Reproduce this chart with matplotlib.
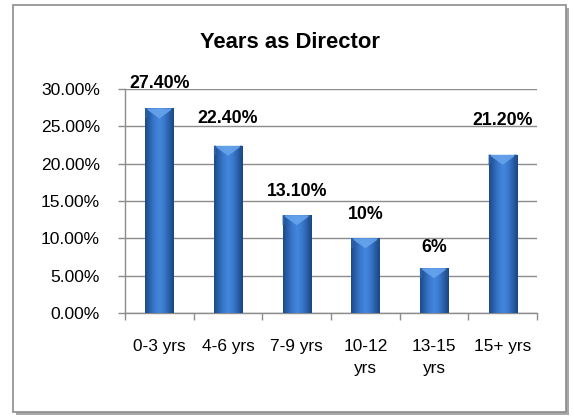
import matplotlib
matplotlib.use("Agg")
import matplotlib.pyplot as plt
import numpy as np
from matplotlib.patches import Rectangle, Polygon
from matplotlib.colors import LinearSegmentedColormap

categories = ["0-3 yrs", "4-6 yrs", "7-9 yrs", "10-12\nyrs", "13-15\nyrs", "15+ yrs"]
values = [27.4, 22.4, 13.1, 10, 6, 21.2]
labels = ["27.40%", "22.40%", "13.10%", "10%", "6%", "21.20%"]
yticks = [0, 5, 10, 15, 20, 25, 30]
ytick_labels = ["0.00%", "5.00%", "10.00%", "15.00%", "20.00%", "25.00%", "30.00%"]
title = "Years as Director"

# label vertical offsets above bar tops (pixels)
label_offsets_px = [25, 27, 24, 24, 21, 34]

plt.rcParams['font.family'] = ['Liberation Sans', 'DejaVu Sans']

W, H = 574, 416
fig = plt.figure(figsize=(W / 100, H / 100), dpi=100)
fig.patch.set_facecolor("white")

# outer border with shadow
shadow = Rectangle((16 / W, 1 - 415 / H), 553 / W, 407 / H, transform=fig.transFigure,
                   facecolor="#a8a8a8", edgecolor="none", zorder=0)
fig.patches.append(shadow)
frame = Rectangle((13 / W, 1 - 412 / H), 553 / W, 407 / H, transform=fig.transFigure,
                  facecolor="white", edgecolor="#8c8c8c", linewidth=1.2, zorder=1)
fig.patches.append(frame)

ax = fig.add_axes([125 / W, 1 - 313 / H, (537 - 125) / W, (313 - 89) / H])
ax.set_facecolor("none")
ax.set_zorder(2)

x = np.arange(len(categories))
bw = 0.41
bars = ax.bar(x, values, width=bw, color="#2f69b8", zorder=3, edgecolor="none")

ax.set_xlim(-0.5, len(categories) - 0.5)
ax.set_ylim(0, 30)

# gradient shading for bars
cmap = LinearSegmentedColormap.from_list(
    "barg", ["#1d4a87", "#2b63b0", "#3a7ad0", "#4487dc", "#3a79cd", "#2a60aa", "#1a4580"])
grad = np.linspace(0, 1, 64).reshape(1, -1)
px_per_unit = (313 - 89) / 30.0
bevel = 10 / px_per_unit
for b in bars:
    x0, y0 = b.get_x(), b.get_y()
    w, h = b.get_width(), b.get_height()
    im = ax.imshow(grad, extent=[x0, x0 + w, y0, y0 + h], aspect="auto",
                   cmap=cmap, zorder=3.5, interpolation="bicubic")
    im.set_clip_path(b)
    tri = Polygon([[x0, y0 + h], [x0 + w, y0 + h], [x0 + w / 2, y0 + h - bevel]],
                  closed=True, facecolor="#6aa6ee", edgecolor="none", zorder=4, alpha=0.85)
    ax.add_patch(tri)
    ax.add_patch(Polygon([[x0, y0 + h], [x0 + 0.08 * w, y0 + h], [x0 + 0.08 * w, y0 + h - bevel * 0.9],
                          [x0, y0 + h - bevel]], closed=True, facecolor="#2a5fa8",
                         edgecolor="none", zorder=4))
    ax.add_patch(Polygon([[x0 + w, y0 + h], [x0 + 0.92 * w, y0 + h], [x0 + 0.92 * w, y0 + h - bevel * 0.9],
                          [x0 + w, y0 + h - bevel]], closed=True, facecolor="#22528f",
                         edgecolor="none", zorder=4))

for xi, v, lab, off in zip(x, values, labels, label_offsets_px):
    ax.annotate(lab, (xi, v), xytext=(0, off * 0.72), textcoords="offset points",
                ha="center", va="center", fontsize=12.8, fontweight="bold", color="black",
                zorder=6, annotation_clip=False)

ax.set_yticks(yticks)
ax.set_yticklabels(ytick_labels, fontsize=12.6)
ax.yaxis.grid(True, color="#8c8c8c", linewidth=1.0, zorder=1)
ax.set_axisbelow(True)

ax.set_xticks(x)
ax.set_xticklabels(categories, fontsize=12.4, linespacing=1.55, va="top")
ax.set_xticks(np.arange(len(categories) + 1) - 0.5, minor=True)
ax.tick_params(axis="x", which="major", length=0, pad=19)
ax.tick_params(axis="x", which="minor", length=5, color="#8c8c8c", width=1.0, direction="out")
ax.tick_params(axis="y", length=5, color="#8c8c8c", width=1.0, pad=13)

for s in ["top", "right"]:
    ax.spines[s].set_visible(False)
for s in ["left", "bottom"]:
    ax.spines[s].set_color("#8c8c8c")
    ax.spines[s].set_linewidth(1.0)

fig.text(290 / W, 1 - 42 / H, title, ha="center", va="center", fontsize=15.8,
         fontweight="bold", zorder=5)

fig.savefig("out.png", dpi=100, facecolor="white")
